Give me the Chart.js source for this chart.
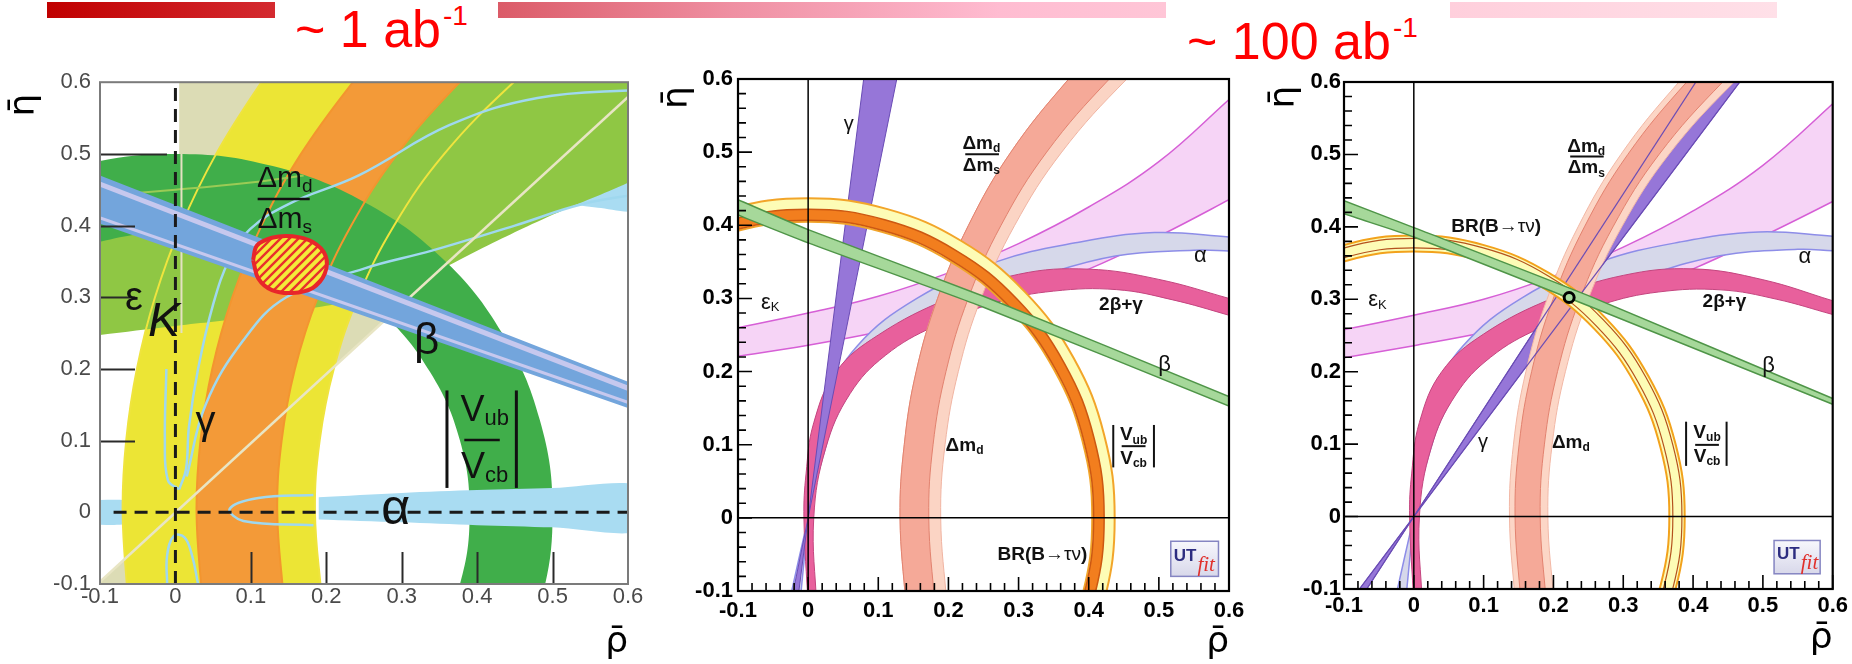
<!DOCTYPE html>
<html lang="en"><head><meta charset="utf-8"><title>Unitarity triangle fits</title>
<script src="https://cdn.jsdelivr.net/npm/chart.js@4.4.1/dist/chart.umd.min.js"></script>
<style>
html,body{margin:0;padding:0;background:#fff}
body{position:relative;width:1852px;height:664px;overflow:hidden;font-family:"Liberation Sans",Arial,sans-serif}
.bar{position:absolute;top:2px;height:16px}
.lum{position:absolute;color:#ff0000;font-size:52px;line-height:52px;white-space:nowrap}
.lum sup{font-size:28px;line-height:0;vertical-align:0;position:relative;top:-22px;margin-left:2px}
canvas{position:absolute}
</style></head><body>
<div class="bar" style="left:47px;width:228px;background:linear-gradient(90deg,#c00000,#d42a30)"></div>
<div class="bar" style="left:498px;width:668px;background:linear-gradient(90deg,#db5b68,#ef8fa2 35%,#ffbcd1 75%,#ffc6d7)"></div>
<div class="bar" style="left:1450px;width:327px;background:linear-gradient(90deg,#ffcfdc,#ffe0e8)"></div>
<div class="lum" style="left:295px;top:3px">~ 1 ab<sup>-1</sup></div>
<div class="lum" style="left:1187px;top:15px">~ 100 ab<sup>-1</sup></div>
<canvas id="c1"></canvas><canvas id="c2"></canvas><canvas id="c3"></canvas>
<script>
// ===================== DATA (ρ̄, η̄ points) =====================
const TICK_LABELS = ['-0.1','0','0.1','0.2','0.3','0.4','0.5','0.6'];

// ---- Panel 1 (~1 ab-1) ----
const p1_gammaWedgeUp  = [[0.005,0.005],[0.005,0.62],[0.642,0.62],[0.005,0.005]];
const p1_gammaWedgeLow = [[0,0],[-0.124,-0.12],[0,-0.12],[0,0]];
const p1_gammaLine     = [[-0.124,-0.12],[0.642,0.62]];
const p1_gammaEdge     = [[0.008,0.25],[0.008,0.5]];
const p1_alphaLeft     = [[-0.12,0.017],[-0.055,0.014],[-0.055,-0.014],[-0.12,-0.017]];
const p1_alphaTop      = [[0.515,0.432],[0.56,0.449],[0.62,0.472],[0.62,0.422],[0.56,0.425],[0.515,0.432]];
const p1_alphaRightUp  = [[0.19,0.021],[0.3,0.027],[0.4,0.031],[0.5,0.034],[0.62,0.036]];
const p1_alphaRightLow = [[0.19,-0.01],[0.3,-0.014],[0.4,-0.018],[0.5,-0.021],[0.62,-0.025]];
const p1_alphaArc      = [[0.005,0.032],[0.014,0.06],[0.018,0.12],[0.03,0.2],[0.05,0.29],[0.072,0.354],[0.099,0.395],[0.15,0.43],[0.243,0.47],[0.363,0.54],[0.48,0.578],[0.62,0.59]];
const p1_alphaArcLow   = [[0.015,0.05],[0.04,0.15],[0.09,0.24],[0.147,0.3],[0.25,0.34],[0.34,0.365],[0.45,0.4],[0.54,0.43],[0.62,0.445]];
const p1_alphaU        = [[-0.012,0.2],[-0.014,0.1],[-0.01,0.045],[0.005,0.032]];
const p1_alphaCap      = [[-0.011,-0.1],[-0.011,-0.06],[-0.002,-0.033],[0.012,-0.035],[0.022,-0.06],[0.03,-0.1]];
const p1_alphaTip      = [[0.183,0.024],[0.11,0.02],[0.072,0.005],[0.09,-0.012],[0.183,-0.018]];
const p1_yellowL = [[-0.0632,-0.12],[-0.07,0],[-0.0653,0.1],[-0.0511,0.2],[-0.0271,0.3],[0.0076,0.4],[0.054,0.5],[0.114,0.6],[0.15,0.65]];
const p1_yellowR = [[0.1939,-0.12],[0.185,0],[0.1912,0.1],[0.2099,0.2],[0.2422,0.3],[0.2899,0.4],[0.3564,0.5],[0.4485,0.6],[0.5084,0.65]];
const p1_epsLow  = [[-0.12,0.245],[0,0.26],[0.1,0.272],[0.2,0.288],[0.25,0.298],[0.3,0.315],[0.35,0.338],[0.4,0.365],[0.5,0.415],[0.62,0.47],[0.7,0.52]];
const p1_epsUp   = [[-0.12,0.44],[0,0.45],[0.1,0.46],[0.17,0.47],[0.24,0.52],[0.3,0.6],[0.4,0.72],[0.55,0.85],[0.7,0.95]];
const p1_epsUpEdge = [[-0.12,0.44],[0,0.45],[0.1,0.46],[0.17,0.47]];
const p1_orangeL = [[0.0354,-0.12],[0.028,0],[0.0332,0.1],[0.0488,0.2],[0.0754,0.3],[0.1141,0.4],[0.1665,0.5],[0.2353,0.6],[0.2773,0.65]];
const p1_orangeR = [[0.1434,-0.12],[0.135,0],[0.1408,0.1],[0.1584,0.2],[0.1887,0.3],[0.2331,0.4],[0.2942,0.5],[0.3769,0.6],[0.4293,0.65]];
const p1_vubOut  = [[-0.354,0.354],[-0.25,0.433],[-0.129,0.483],[0,0.5],[0.129,0.483],[0.25,0.433],[0.354,0.354],[0.433,0.25],[0.483,0.129],[0.5,0],[0.483,-0.129],[0.433,-0.25]];
const p1_vubIn   = [[-0.276,0.276],[-0.195,0.338],[-0.101,0.377],[0,0.39],[0.101,0.377],[0.195,0.338],[0.276,0.276],[0.338,0.195],[0.377,0.101],[0.39,0],[0.377,-0.101],[0.338,-0.195]];
const p1_betaUp  = [[-0.12,0.478],[0.62,0.174]];
const p1_betaLow = [[-0.12,0.41],[0.62,0.138]];
const p1_betaStripeA = [[-0.12,0.466],[0.62,0.165]];
const p1_betaStripeB = [[-0.12,0.418],[0.62,0.146]];
const p1_blob = [[0.103,0.352],[0.108,0.372],[0.128,0.383],[0.155,0.385],[0.182,0.377],[0.199,0.358],[0.198,0.333],[0.182,0.313],[0.155,0.306],[0.128,0.31],[0.11,0.326],[0.103,0.352]];
const p1_axisV = [[0,-0.1],[0,0.6]];
const p1_axisH = [[-0.082,0],[0.6,0]];

// ---- Panel 2 (today) ----
const p2_epsUp   = [[-0.12,0.256],[0,0.28],[0.1,0.303],[0.2,0.335],[0.3,0.375],[0.4,0.425],[0.5,0.487],[0.6,0.572],[0.62,0.59]];
const p2_epsLow  = [[-0.12,0.218],[0,0.236],[0.1,0.254],[0.2,0.276],[0.3,0.305],[0.4,0.34],[0.5,0.385],[0.6,0.435],[0.62,0.446]];
const p2_alphaUp = [[-0.012,-0.12],[0,0],[0.008,0.08],[0.025,0.16],[0.07,0.235],[0.155,0.3],[0.268,0.35],[0.381,0.376],[0.494,0.39],[0.6,0.384],[0.62,0.382]];
const p2_alphaLow= [[-0.028,-0.12],[0,0],[0.02,0.08],[0.045,0.148],[0.099,0.223],[0.155,0.265],[0.212,0.292],[0.325,0.329],[0.438,0.358],[0.55,0.366],[0.6,0.365],[0.62,0.364]];
const p2_twoBGOut= [[0,-0.12],[-0.006,0],[-0.003,0.06],[0.008,0.13],[0.04,0.2],[0.1,0.25],[0.2,0.3],[0.3,0.333],[0.4,0.34],[0.5,0.326],[0.6,0.3],[0.62,0.294]];
const p2_twoBGIn = [[0.012,-0.12],[0.008,0],[0.025,0.095],[0.06,0.17],[0.11,0.222],[0.18,0.262],[0.27,0.295],[0.35,0.31],[0.44,0.312],[0.52,0.298],[0.6,0.277],[0.62,0.271]];
const p2_gamma   = [[0,0],[0.0818,0.62],[0.1306,0.62],[0,0],[-0.0253,-0.12],[-0.0158,-0.12],[0,0]];
const p2_dmdL    = [[0.1394,-0.12],[0.131,0],[0.137,0.1],[0.154,0.2],[0.1845,0.3],[0.2286,0.4],[0.289,0.5],[0.3715,0.6],[0.4234,0.65]];
const p2_dmdR    = [[0.1807,-0.12],[0.172,0],[0.1781,0.1],[0.1965,0.2],[0.2282,0.3],[0.275,0.4],[0.34,0.5],[0.4294,0.6],[0.4871,0.65]];
const p2_dmdOut  = [[0.1979,-0.12],[0.189,0],[0.1952,0.1],[0.2141,0.2],[0.2465,0.3],[0.2945,0.4],[0.3615,0.5],[0.4544,0.6],[0.515,0.65]];
const p2_vubOut  = [[-0.309,0.309],[-0.2185,0.3785],[-0.1131,0.4221],[0,0.437],[0.1131,0.4221],[0.2185,0.3785],[0.309,0.309],[0.3785,0.2185],[0.4221,0.1131],[0.437,0],[0.4221,-0.1131],[0.3785,-0.2185]];
const p2_vubIn   = [[-0.2864,0.2864],[-0.2025,0.3507],[-0.1048,0.3912],[0,0.405],[0.1048,0.3912],[0.2025,0.3507],[0.2864,0.2864],[0.3507,0.2025],[0.3912,0.1048],[0.405,0],[0.3912,-0.1048],[0.3507,-0.2025]];
const p2_brOut   = [[-0.2984,0.2984],[-0.211,0.3655],[-0.1092,0.4076],[0,0.422],[0.1092,0.4076],[0.211,0.3655],[0.2984,0.2984],[0.3655,0.211],[0.4076,0.1092],[0.422,0],[0.4076,-0.1092],[0.3655,-0.211]];
const p2_brIn    = [[-0.2878,0.2878],[-0.2035,0.3525],[-0.1053,0.3931],[0,0.407],[0.1053,0.3931],[0.2035,0.3525],[0.2878,0.2878],[0.3525,0.2035],[0.3931,0.1053],[0.407,0],[0.3931,-0.1053],[0.3525,-0.2035]];
const p2_betaUp  = [[-0.12,0.444],[-0.1,0.435],[0,0.394],[0.25,0.303],[0.6,0.166],[0.62,0.158]];
const p2_betaLow = [[-0.12,0.422],[-0.1,0.414],[0,0.376],[0.25,0.288],[0.6,0.153],[0.62,0.145]];
const p2_axisV = [[0,-0.1],[0,0.6]];
const p2_axisH = [[-0.1,0],[0.6,0]];

// ---- Panel 3 (~100 ab-1) ----
const p3_epsUp   = [[-0.12,0.254],[0,0.278],[0.1,0.3],[0.2,0.332],[0.3,0.372],[0.4,0.422],[0.5,0.485],[0.6,0.57],[0.62,0.59]];
const p3_epsLow  = [[-0.12,0.216],[0,0.236],[0.1,0.254],[0.2,0.277],[0.3,0.306],[0.4,0.342],[0.5,0.387],[0.6,0.435],[0.62,0.446]];
const p3_alphaUp = [[-0.012,-0.12],[0,0],[0.008,0.08],[0.025,0.16],[0.07,0.235],[0.155,0.302],[0.268,0.352],[0.381,0.379],[0.494,0.393],[0.6,0.387],[0.62,0.385]];
const p3_alphaLow= [[-0.028,-0.12],[0,0],[0.02,0.08],[0.045,0.146],[0.099,0.222],[0.155,0.264],[0.212,0.291],[0.325,0.33],[0.438,0.36],[0.55,0.369],[0.6,0.367],[0.62,0.366]];
const p3_twoBGOut= [[0,-0.12],[-0.006,0],[-0.003,0.06],[0.008,0.13],[0.04,0.2],[0.1,0.252],[0.2,0.302],[0.3,0.333],[0.4,0.342],[0.5,0.327],[0.6,0.298],[0.62,0.292]];
const p3_twoBGIn = [[0.012,-0.12],[0.008,0],[0.025,0.095],[0.06,0.168],[0.11,0.22],[0.18,0.26],[0.27,0.293],[0.35,0.31],[0.44,0.313],[0.52,0.3],[0.6,0.279],[0.62,0.274]];
const p3_gamma   = [[0,0],[0.4175,0.62],[0.4825,0.62],[0,0],[-0.0934,-0.12],[-0.0808,-0.12],[0,0]];
const p3_gammaEdgeA = [[-0.0808,-0.12],[0.4175,0.62]];
const p3_gammaEdgeB = [[-0.0934,-0.12],[0.4825,0.62]];
const p3_dmdOutL = [[0.1454,-0.12],[0.137,0],[0.1428,0.1],[0.1605,0.2],[0.1908,0.3],[0.2353,0.4],[0.2966,0.5],[0.3797,0.6],[0.4323,0.65]];
const p3_dmdOutR = [[0.2009,-0.12],[0.192,0],[0.1982,0.1],[0.2171,0.2],[0.2497,0.3],[0.2979,0.4],[0.3653,0.5],[0.4588,0.6],[0.52,0.65]];
const p3_dmdL    = [[0.1535,-0.12],[0.145,0],[0.1509,0.1],[0.1687,0.2],[0.1994,0.3],[0.2444,0.4],[0.3065,0.5],[0.3909,0.6],[0.4446,0.65]];
const p3_dmdR    = [[0.1898,-0.12],[0.181,0],[0.1871,0.1],[0.2058,0.2],[0.2379,0.3],[0.2853,0.4],[0.3513,0.5],[0.4425,0.6],[0.5017,0.65]];
const p3_vubOut  = [[-0.2744,0.2744],[-0.194,0.336],[-0.1004,0.3748],[0,0.388],[0.1004,0.3748],[0.194,0.336],[0.2744,0.2744],[0.336,0.194],[0.3748,0.1004],[0.388,0],[0.3748,-0.1004],[0.336,-0.194]];
const p3_vubIn   = [[-0.2588,0.2588],[-0.183,0.317],[-0.0947,0.3535],[0,0.366],[0.0947,0.3535],[0.183,0.317],[0.2588,0.2588],[0.317,0.183],[0.3535,0.0947],[0.366,0],[0.3535,-0.0947],[0.317,-0.183]];
const p3_brInner = [[-0.2623,0.2623],[-0.1855,0.3213],[-0.096,0.3584],[0,0.371],[0.096,0.3584],[0.1855,0.3213],[0.2623,0.2623],[0.3213,0.1855],[0.3584,0.096],[0.371,0],[0.3584,-0.096],[0.3213,-0.1855]];
const p3_brOuter = [[-0.2715,0.2715],[-0.192,0.3326],[-0.0994,0.3709],[0,0.384],[0.0994,0.3709],[0.192,0.3326],[0.2715,0.2715],[0.3326,0.192],[0.3709,0.0994],[0.384,0],[0.3709,-0.0994],[0.3326,-0.192]];
const p3_betaUp  = [[-0.12,0.443],[-0.1,0.436],[0,0.399],[0.25,0.305],[0.6,0.163],[0.62,0.156]];
const p3_betaLow = [[-0.12,0.426],[-0.1,0.418],[0,0.386],[0.25,0.291],[0.6,0.155],[0.62,0.148]];
const p3_bestFit = [[0.2225,0.3025]];
const p3_axisV = [[0,-0.1],[0,0.6]];
const p3_axisH = [[-0.1,0],[0.6,0]];

// ===================== helpers =====================
const SANS = '"Liberation Sans", Arial, sans-serif';
const SERIF = '"Liberation Serif", serif';
const DJ = '"DejaVu Sans", sans-serif';
function f(size, weight, style, fam){ return (style||'normal')+' '+(weight||'normal')+' '+size+'px '+(fam||SANS); }
function xy(a){ return a.map(p => ({x:p[0], y:p[1]})); }
function ring(a, b){ return a.concat(b.slice().reverse()); }
function poly(arr, fill, stroke, bw, tension){
  return {type:'line', data:xy(arr), fill:'shape', backgroundColor:fill,
    borderColor:stroke||'rgba(0,0,0,0)', borderWidth:bw||1,
    tension:(tension===undefined?0.4:tension), pointRadius:0, pointHoverRadius:0, clip:0};
}
function curve(arr, color, w, dash, tension){
  return {type:'line', data:xy(arr), fill:false, borderColor:color, borderWidth:w,
    borderDash:dash||[], tension:(tension===undefined?0.4:tension), pointRadius:0, pointHoverRadius:0, clip:0};
}
function hatch(){
  const c = document.createElement('canvas'); c.width = 9; c.height = 9;
  const g = c.getContext('2d');
  g.fillStyle = '#f4ea3a'; g.fillRect(0,0,9,9);
  g.strokeStyle = '#e8302c'; g.lineWidth = 2.4;
  g.beginPath(); g.moveTo(0,9); g.lineTo(9,0); g.moveTo(-2,2); g.lineTo(2,-2); g.moveTo(7,11); g.lineTo(11,7); g.stroke();
  return g.createPattern(c,'repeat');
}

// ===================== annotations =====================
const B = 'bold';
const p1_labels = [
  {x:0.145, y:0.465, parts:[['Δm',f(30)],['d',f(19),8]]},
  {line:[0.109,0.437,0.178,0.437], w:2.5},
  {x:0.145, y:0.408, parts:[['Δm',f(30)],['s',f(19),8]]},
  {x:-0.055, y:0.298, parts:[['ε',f(40)]]},
  {x:-0.015, y:0.265, parts:[['K',f(48,'normal','italic')]]},
  {x:0.333, y:0.238, parts:[['β',f(44)]]},
  {x:0.04, y:0.125, parts:[['γ',f(40)]]},
  {x:0.292, y:0.003, parts:[['α',f(50)]]},
  {line:[0.36,0.17,0.36,0.034], w:3},
  {line:[0.452,0.17,0.452,0.034], w:3},
  {x:0.41, y:0.141, parts:[['V',f(36)],['ub',f(22),8]]},
  {line:[0.383,0.101,0.43,0.101], w:2.5},
  {x:0.41, y:0.062, parts:[['V',f(36)],['cb',f(22),8]]}
];
const p2_labels = [
  {x:0.058, y:0.538, parts:[['γ',f(20)]]},
  {x:0.247, y:0.512, parts:[['Δm',f(19,B)],['d',f(12,B),5]]},
  {line:[0.224,0.497,0.272,0.497], w:2},
  {x:0.247, y:0.481, parts:[['Δm',f(19,B)],['s',f(12,B),5]]},
  {x:0.559, y:0.358, parts:[['α',f(22)]]},
  {x:-0.054, y:0.294, parts:[['ε',f(22)],['K',f(13),5]]},
  {x:0.446, y:0.292, parts:[['2β+γ',f(19,B)]]},
  {x:0.508, y:0.209, parts:[['β',f(22)]]},
  {x:0.223, y:0.098, parts:[['Δm',f(19,B)],['d',f(12,B),5]]},
  {line:[0.435,0.127,0.435,0.069], w:2},
  {line:[0.493,0.127,0.493,0.069], w:2},
  {x:0.464, y:0.113, parts:[['V',f(19,B)],['ub',f(12,B),5]]},
  {line:[0.447,0.098,0.481,0.098], w:2},
  {x:0.464, y:0.081, parts:[['V',f(19,B)],['cb',f(12,B),5]]},
  {x:0.334, y:-0.05, parts:[['BR(B',f(19,B)],['→τν',f(19)],[')',f(19,B)]]},
  {logo:[0.517,0.585,-0.032,-0.08]}
];
const p3_labels = [
  {x:0.247, y:0.511, parts:[['Δm',f(19,B)],['d',f(12,B),5]]},
  {line:[0.224,0.497,0.272,0.497], w:2},
  {x:0.247, y:0.481, parts:[['Δm',f(19,B)],['s',f(12,B),5]]},
  {x:0.118, y:0.40, parts:[['BR(B',f(19,B)],['→τν',f(19)],[')',f(19,B)]]},
  {x:-0.052, y:0.299, parts:[['ε',f(22)],['K',f(13),5]]},
  {x:0.56, y:0.359, parts:[['α',f(22)]]},
  {x:0.445, y:0.296, parts:[['2β+γ',f(19,B)]]},
  {x:0.508, y:0.208, parts:[['β',f(22)]]},
  {x:0.099, y:0.102, parts:[['γ',f(20)]]},
  {x:0.225, y:0.102, parts:[['Δm',f(19,B)],['d',f(12,B),5]]},
  {line:[0.39,0.131,0.39,0.07], w:2},
  {line:[0.448,0.131,0.448,0.07], w:2},
  {x:0.42, y:0.116, parts:[['V',f(19,B)],['ub',f(12,B),5]]},
  {line:[0.403,0.099,0.437,0.099], w:2},
  {x:0.42, y:0.082, parts:[['V',f(19,B)],['cb',f(12,B),5]]},
  {logo:[0.516,0.582,-0.033,-0.079]}
];

// ===================== decoration plugin =====================
function drawLogo(ctx, xs, ys, L){
  const x1 = xs.getPixelForValue(L[0]), x2 = xs.getPixelForValue(L[1]);
  const y1 = ys.getPixelForValue(L[2]), y2 = ys.getPixelForValue(L[3]);
  const g = ctx.createLinearGradient(0,y1,0,y2);
  g.addColorStop(0,'#f7f7fc'); g.addColorStop(1,'#d8d8ea');
  ctx.fillStyle = g; ctx.fillRect(x1,y1,x2-x1,y2-y1);
  ctx.strokeStyle = '#8585c2'; ctx.lineWidth = 1.5; ctx.strokeRect(x1,y1,x2-x1,y2-y1);
  ctx.textAlign = 'left'; ctx.textBaseline = 'alphabetic';
  ctx.font = f(17,B); ctx.fillStyle = '#2d2d80';
  ctx.fillText('UT', x1+3, y1+(y2-y1)*0.55);
  const w = ctx.measureText('UT').width;
  ctx.font = f(21,'normal','italic',SERIF); ctx.fillStyle = '#e0302c';
  ctx.fillText('fit', x1+4+w, y1+(y2-y1)*0.86);
}
function decoPlugin(kind, labels){
  return {
    id:'deco',
    afterDatasetsDraw(chart){
      const ctx = chart.ctx, a = chart.chartArea, xs = chart.scales.x, ys = chart.scales.y;
      ctx.save();
      if (kind === 'p1') {
        ctx.strokeStyle = '#2a2a2a'; ctx.lineWidth = 2;
        [[0.1,35],[0.2,35],[0.3,35],[0.4,35],[0.5,67]].forEach(t => {
          const py = Math.round(ys.getPixelForValue(t[0]))+0.5;
          ctx.beginPath(); ctx.moveTo(a.left,py); ctx.lineTo(a.left+t[1],py); ctx.stroke();
        });
        [0.1,0.2,0.3,0.4,0.5].forEach(v => {
          const px = Math.round(xs.getPixelForValue(v))+0.5;
          ctx.beginPath(); ctx.moveTo(px,a.bottom); ctx.lineTo(px,a.bottom-32); ctx.stroke();
        });
        ctx.strokeStyle = '#7b7b7b'; ctx.lineWidth = 2;
      } else {
        ctx.strokeStyle = '#000'; ctx.lineWidth = 1.6;
        for (let k = -5; k <= 30; k++) {
          const v = k/50, len = (k % 5 === 0) ? 14 : 8;
          const px = xs.getPixelForValue(v), py = ys.getPixelForValue(v);
          ctx.beginPath(); ctx.moveTo(px,a.bottom); ctx.lineTo(px,a.bottom-len);
          ctx.moveTo(a.left,py); ctx.lineTo(a.left+len,py); ctx.stroke();
        }
        ctx.lineWidth = 2.2;
      }
      ctx.strokeRect(a.left, a.top, a.right-a.left, a.bottom-a.top);
      labels.forEach(L => {
        if (L.logo) { drawLogo(ctx, xs, ys, L.logo); return; }
        if (L.line) {
          ctx.strokeStyle = '#111'; ctx.lineWidth = L.w;
          ctx.beginPath();
          ctx.moveTo(xs.getPixelForValue(L.line[0]), ys.getPixelForValue(L.line[1]));
          ctx.lineTo(xs.getPixelForValue(L.line[2]), ys.getPixelForValue(L.line[3]));
          ctx.stroke(); return;
        }
        let w = 0;
        const ps = L.parts.map(p => { ctx.font = p[1]; const pw = ctx.measureText(p[0]).width; w += pw; return {t:p[0], f:p[1], dy:p[2]||0, w:pw}; });
        let cx = xs.getPixelForValue(L.x) - w/2;
        const cy = ys.getPixelForValue(L.y);
        ctx.fillStyle = '#111'; ctx.textAlign = 'left'; ctx.textBaseline = 'middle';
        ps.forEach(p => { ctx.font = p.f; ctx.fillText(p.t, cx, cy+p.dy); cx += p.w; });
      });
      ctx.restore();
    }
  };
}

// ===================== chart factory =====================
function axes(geo, tk){
  const tf = {family:SANS, size:22, weight:tk.weight};
  return {
    x:{type:'linear', min:-0.1, max:0.6, position:'bottom',
       ticks:{stepSize:0.1, autoSkip:false, maxRotation:0, minRotation:0, color:tk.color, font:tf, padding:tk.xPad, callback:(v,i)=>TICK_LABELS[i]},
       grid:{display:false, drawTicks:false}, border:{display:false},
       title:{display:true, text:'ρ\u0304', align:'end', color:'#000', font:{family:DJ, size:36}, padding:{top:0, bottom:tk.xTitlePad}},
       afterFit(s){ s.height = geo.xH; }},
    y:{type:'linear', min:-0.1, max:0.6, position:'left',
       ticks:{stepSize:0.1, autoSkip:false, color:tk.color, font:tf, padding:tk.yPad, callback:(v,i)=>TICK_LABELS[i]},
       grid:{display:false, drawTicks:false}, border:{display:false},
       title:{display:true, text:'η\u0304'+tk.ySpace, align:'end', color:'#000', font:{family:DJ, size:36}, padding:{top:tk.yTitlePad, bottom:0}},
       afterFit(s){ s.width = geo.yW; }}
  };
}
function makeChart(id, geo, tk, layers, kind, labels){
  const cv = document.getElementById(id);
  cv.width = geo.w; cv.height = geo.h;
  cv.style.left = geo.left+'px'; cv.style.top = geo.top+'px';
  return new Chart(cv.getContext('2d'), {
    type:'scatter',
    data:{datasets: layers.slice().reverse()},
    options:{
      responsive:false, animation:false, devicePixelRatio:1, events:[],
      layout:{padding:{left:0, top:geo.padT, right:geo.padR, bottom:0}},
      plugins:{legend:{display:false}, tooltip:{enabled:false}},
      elements:{line:{capBezierPoints:false}, point:{radius:0, hoverRadius:0}},
      scales:axes(geo, tk)
    },
    plugins:[decoPlugin(kind, labels)]
  });
}

// ===================== panel 1 =====================
const BEIGE = '#dcdcb5', LBLUE = '#a9dcf2', LBLINE = '#9fd8ef';
const layers1 = [
  poly(p1_gammaWedgeUp, BEIGE, null, 1, 0),
  poly(p1_gammaWedgeLow, BEIGE, null, 1, 0),
  poly(p1_alphaLeft, LBLUE, null, 1, 0.3),
  poly(ring(p1_yellowL, p1_yellowR), '#ece535'),
  poly(p1_alphaTop, LBLUE, null, 1, 0.3),
  poly(ring(p1_epsLow, p1_epsUp), '#8fc744'),
  poly(ring(p1_orangeL, p1_orangeR), '#f39a38'),
  poly(ring(p1_vubOut, p1_vubIn), '#40ae4a'),
  curve(p1_yellowL, '#efe43e', 2),
  curve(p1_yellowR, '#efe43e', 2),
  curve(p1_orangeL, '#f3952f', 2),
  curve(p1_orangeR, '#f3952f', 2),
  curve(p1_epsUpEdge, '#9acb55', 2),
  curve(p1_gammaEdge, '#e4e1c2', 2, null, 0),
  poly(ring(p1_alphaRightUp, p1_alphaRightLow), LBLUE, null, 1, 0.3),
  curve(p1_alphaArc, LBLINE, 2.5),
  curve(p1_alphaArcLow, LBLINE, 2.5),
  curve(p1_alphaU, LBLINE, 2.5),
  curve(p1_alphaCap, LBLINE, 2.5),
  curve(p1_alphaTip, LBLINE, 2.5),
  curve(p1_gammaLine, '#e8e5c4', 2.5, null, 0),
  poly(ring(p1_betaUp, p1_betaLow), '#73a5dc', null, 1, 0),
  curve(p1_betaStripeA, '#c6c8ee', 5, null, 0),
  curve(p1_betaStripeB, '#c6c8ee', 3, null, 0),
  curve(p1_axisV, '#1a1a1a', 3, [13,8], 0),
  curve(p1_axisH, '#1a1a1a', 3, [13,8], 0),
  poly(p1_blob, hatch(), '#e8262a', 4, 0.35)
];
makeChart('c1', {left:0, top:60, w:660, h:604, yW:100, xH:80, padT:14, padR:32},
  {weight:'normal', color:'#4a4a4a', xPad:0, yPad:9, xTitlePad:0, yTitlePad:3, ySpace:'\u00a0'},
  layers1, 'p1', p1_labels);

// ===================== panel 2 =====================
const PINK = '#f6d4f6', PINKE = '#d65fd6', ALF = '#d6d8ea', ALFE = '#8d8de8';
const layers2 = [
  poly(ring(p2_epsLow, p2_epsUp), PINK, PINKE, 1.5),
  poly(ring(p2_alphaUp, p2_alphaLow), ALF, ALFE, 1.5),
  poly(ring(p2_twoBGOut, p2_twoBGIn), '#e8609c', '#c4457f', 1),
  poly(p2_gamma, '#9676d8', '#6a4cb5', 1, 0),
  poly(ring(p2_dmdL, p2_dmdOut), '#fbd4c4', '#f0b4a2', 1),
  poly(ring(p2_dmdL, p2_dmdR), '#f5a998', '#e2826f', 1),
  poly(ring(p2_vubOut, p2_vubIn), '#fdfcb6', '#f2a52a', 2),
  poly(ring(p2_brOut, p2_brIn), '#f27e1e', '#cc5812', 1.5),
  poly(ring(p2_betaUp, p2_betaLow), '#a6d89a', '#4f9548', 1.5, 0.2),
  curve(p2_axisV, '#000', 1.5, null, 0),
  curve(p2_axisH, '#000', 1.5, null, 0)
];
makeChart('c2', {left:660, top:60, w:600, h:604, yW:78, xH:73, padT:19, padR:31},
  {weight:'bold', color:'#000', xPad:7, yPad:5, xTitlePad:0, yTitlePad:-4, ySpace:'\u2009'},
  layers2, 'root', p2_labels);

// ===================== panel 3 =====================
const layers3 = [
  poly(ring(p3_epsLow, p3_epsUp), PINK, PINKE, 1.5),
  poly(ring(p3_alphaUp, p3_alphaLow), ALF, ALFE, 1.5),
  poly(ring(p3_twoBGOut, p3_twoBGIn), '#e8609c', '#c4457f', 1),
  poly(p3_gamma, '#9676d8', '#6a4cb5', 1, 0),
  poly(ring(p3_dmdOutL, p3_dmdOutR), '#fcd6c6', '#f2b8a6', 1),
  poly(ring(p3_dmdL, p3_dmdR), '#f5a998', '#e2826f', 1),
  curve(p3_gammaEdgeA, '#6a4cb5', 1.2, null, 0),
  curve(p3_gammaEdgeB, '#6a4cb5', 1.2, null, 0),
  poly(ring(p3_vubOut, p3_vubIn), '#fdfcb6', '#f2a21c', 2),
  curve(p3_brInner, '#b4521e', 1.2),
  curve(p3_brOuter, '#b4521e', 1.2),
  poly(ring(p3_betaUp, p3_betaLow), '#a6d89a', '#4f9548', 1.5, 0.2),
  curve(p3_axisV, '#000', 1.5, null, 0),
  curve(p3_axisH, '#000', 1.5, null, 0),
  {type:'scatter', data:xy(p3_bestFit), pointRadius:5, pointHoverRadius:5, pointBorderWidth:3, pointBorderColor:'#000', pointBackgroundColor:'#a8dca0'}
];
makeChart('c3', {left:1260, top:60, w:592, h:604, yW:84, xH:75, padT:22, padR:18},
  {weight:'bold', color:'#000', xPad:4, yPad:3, xTitlePad:4, yTitlePad:3, ySpace:'\u200a'},
  layers3, 'root', p3_labels);
</script>
</body></html>
